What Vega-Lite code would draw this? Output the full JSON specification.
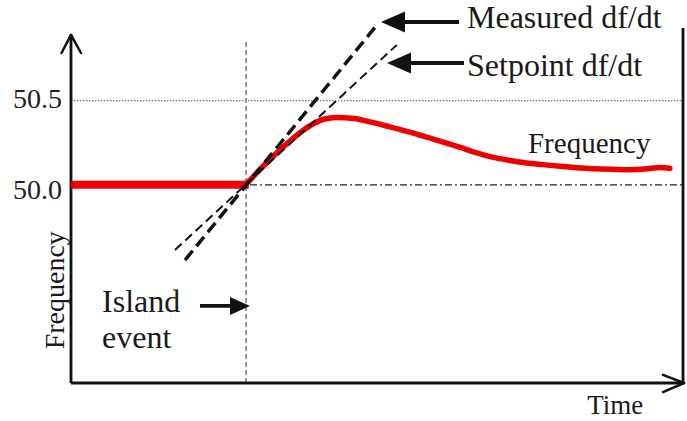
{
  "$schema": "https://vega.github.io/schema/vega-lite/v6.json",
  "width": 613,
  "height": 383,
  "autosize": "none",
  "padding": {"left": 71, "top": 0, "right": 3, "bottom": 38},
  "background": "white",
  "config": {"view": {"stroke": null}, "font": "Liberation Serif"},
  "datasets": {
    "freq": [
      {"t": 0, "f": 50.0, "part": "flat"},
      {"t": 29.0, "f": 50.0, "part": "flat"},
      {"t": 28.4, "f": 50.0, "part": "curve"},
      {"t": 28.7, "f": 50.01, "part": "curve"},
      {"t": 30.8, "f": 50.09, "part": "curve"},
      {"t": 33.0, "f": 50.17, "part": "curve"},
      {"t": 35.7, "f": 50.26, "part": "curve"},
      {"t": 38.5, "f": 50.34, "part": "curve"},
      {"t": 41.2, "f": 50.39, "part": "curve"},
      {"t": 43.3, "f": 50.40, "part": "curve"},
      {"t": 46.1, "f": 50.395, "part": "curve"},
      {"t": 49.3, "f": 50.37, "part": "curve"},
      {"t": 52.0, "f": 50.345, "part": "curve"},
      {"t": 54.8, "f": 50.318, "part": "curve"},
      {"t": 57.5, "f": 50.29, "part": "curve"},
      {"t": 60.2, "f": 50.26, "part": "curve"},
      {"t": 63.5, "f": 50.222, "part": "curve"},
      {"t": 66.2, "f": 50.19, "part": "curve"},
      {"t": 68.9, "f": 50.163, "part": "curve"},
      {"t": 71.6, "f": 50.145, "part": "curve"},
      {"t": 74.3, "f": 50.13, "part": "curve"},
      {"t": 77.0, "f": 50.12, "part": "curve"},
      {"t": 79.8, "f": 50.11, "part": "curve"},
      {"t": 82.5, "f": 50.102, "part": "curve"},
      {"t": 85.2, "f": 50.096, "part": "curve"},
      {"t": 88.0, "f": 50.092, "part": "curve"},
      {"t": 90.7, "f": 50.09, "part": "curve"},
      {"t": 93.6, "f": 50.094, "part": "curve"},
      {"t": 96.1, "f": 50.103, "part": "curve"},
      {"t": 97.7, "f": 50.098, "part": "curve"}
    ],
    "segs": [
      {"id": "grid505", "t": 0, "f": 50.5, "t2": 100, "f2": 50.5},
      {"id": "ref500", "t": 29.2, "f": 50.0, "t2": 100, "f2": 50.0},
      {"id": "island", "t": 28.55, "f": 48.82, "t2": 28.55, "f2": 50.862},
      {"id": "axis", "t": 0, "f": 48.82, "t2": 0, "f2": 50.892},
      {"id": "axis", "t": 0, "f": 48.82, "t2": 100, "f2": 48.82},
      {"id": "axis", "t": 99.84, "f": 48.82, "t2": 99.84, "f2": 50.933},
      {"id": "chevron", "t": -1.55, "f": 50.7845, "t2": 0, "f2": 50.892},
      {"id": "chevron", "t": 1.63, "f": 50.7845, "t2": 0, "f2": 50.892},
      {"id": "chevron", "t": 96.57, "f": 48.868, "t2": 100, "f2": 48.82},
      {"id": "chevron", "t": 96.57, "f": 48.766, "t2": 100, "f2": 48.82},
      {"id": "measured", "t": 18.6, "f": 49.552, "t2": 50.13, "f2": 50.961},
      {"id": "setpoint", "t": 16.97, "f": 49.612, "t2": 53.13, "f2": 50.832},
      {"id": "shaft", "t": 52.86, "f": 50.969, "t2": 63.3, "f2": 50.969},
      {"id": "shaft", "t": 53.67, "f": 50.725, "t2": 64.11, "f2": 50.725},
      {"id": "shaft", "t": 21.04, "f": 49.279, "t2": 27.24, "f2": 49.279}
    ],
    "heads": [
      {"t": 50.57, "f": 50.969, "kind": "left"},
      {"t": 51.55, "f": 50.725, "kind": "left"},
      {"t": 29.2, "f": 49.279, "kind": "right"}
    ],
    "labels": [
      {"t": 64.6, "f": 50.933, "label": "Measured df/dt", "kind": "note"},
      {"t": 64.6, "f": 50.648, "label": "Setpoint df/dt", "kind": "note"},
      {"t": 5.06, "f": 49.245, "label": "Island", "kind": "note"},
      {"t": 5.06, "f": 49.029, "label": "event", "kind": "note"},
      {"t": 74.55, "f": 50.1875, "label": "Frequency", "kind": "series"},
      {"t": 84.2, "f": 48.635, "label": "Time", "kind": "xtitle"},
      {"t": -1.47, "f": 50.46, "label": "50.5", "kind": "tick"},
      {"t": -1.47, "f": 49.918, "label": "50.0", "kind": "tick"},
      {"t": -1.14, "f": 49.372, "label": "Frequency", "kind": "ytitle"}
    ]
  },
  "encoding": {
    "x": {"field": "t", "type": "quantitative", "scale": {"domain": [0, 100], "nice": false, "zero": false}, "axis": null},
    "y": {"field": "f", "type": "quantitative", "scale": {"domain": [48.82, 51.1], "nice": false, "zero": false}, "axis": null}
  },
  "layer": [
    {
      "data": {"name": "segs"},
      "transform": [{"filter": "datum.id === 'grid505'"}],
      "mark": {"type": "rule", "color": "#555555", "strokeWidth": 1, "strokeDash": [1.5, 1.5]},
      "encoding": {"x2": {"field": "t2"}, "y2": {"field": "f2"}}
    },
    {
      "data": {"name": "segs"},
      "transform": [{"filter": "datum.id === 'ref500'"}],
      "mark": {"type": "rule", "color": "#222222", "strokeWidth": 1.2, "strokeDash": [7, 3, 2, 3]},
      "encoding": {"x2": {"field": "t2"}, "y2": {"field": "f2"}}
    },
    {
      "data": {"name": "segs"},
      "transform": [{"filter": "datum.id === 'island'"}],
      "mark": {"type": "rule", "color": "#777777", "strokeWidth": 1.5, "strokeDash": [5, 3]},
      "encoding": {"x2": {"field": "t2"}, "y2": {"field": "f2"}}
    },
    {
      "data": {"name": "segs"},
      "transform": [{"filter": "datum.id === 'axis'"}],
      "mark": {"type": "rule", "color": "#111111", "strokeWidth": 2.8},
      "encoding": {"x2": {"field": "t2"}, "y2": {"field": "f2"}}
    },
    {
      "data": {"name": "segs"},
      "transform": [{"filter": "datum.id === 'chevron'"}],
      "mark": {"type": "rule", "color": "#111111", "strokeWidth": 2.5, "strokeCap": "round"},
      "encoding": {"x2": {"field": "t2"}, "y2": {"field": "f2"}}
    },
    {
      "data": {"name": "freq"},
      "transform": [{"filter": "datum.part === 'flat'"}],
      "mark": {"type": "line", "color": "#ee0000", "strokeWidth": 8},
      "encoding": {}
    },
    {
      "data": {"name": "freq"},
      "transform": [{"filter": "datum.part === 'curve'"}],
      "mark": {"type": "line", "color": "#ee0000", "strokeWidth": 5.5, "interpolate": "monotone", "strokeCap": "round"},
      "encoding": {}
    },
    {
      "data": {"name": "segs"},
      "transform": [{"filter": "datum.id === 'measured'"}],
      "mark": {"type": "rule", "color": "#111111", "strokeWidth": 3.5, "strokeDash": [12, 6]},
      "encoding": {"x2": {"field": "t2"}, "y2": {"field": "f2"}}
    },
    {
      "data": {"name": "segs"},
      "transform": [{"filter": "datum.id === 'setpoint'"}],
      "mark": {"type": "rule", "color": "#111111", "strokeWidth": 2, "strokeDash": [9, 5]},
      "encoding": {"x2": {"field": "t2"}, "y2": {"field": "f2"}}
    },
    {
      "data": {"name": "segs"},
      "transform": [{"filter": "datum.id === 'shaft'"}],
      "mark": {"type": "rule", "color": "#111111", "strokeWidth": 3.8},
      "encoding": {"x2": {"field": "t2"}, "y2": {"field": "f2"}}
    },
    {
      "data": {"name": "heads"},
      "mark": {"type": "point", "filled": true, "size": 400, "color": "#111111", "opacity": 1},
      "encoding": {
        "shape": {"field": "kind", "type": "nominal", "legend": null,
          "scale": {"domain": ["left", "right"], "range": ["M0,0L2.4,-1.05L2.4,1.05Z", "M0,0L-2,-0.9L-2,0.9Z"]}}
      }
    },
    {
      "data": {"name": "labels"},
      "transform": [{"filter": "datum.kind === 'note'"}],
      "mark": {"type": "text", "align": "left", "baseline": "alphabetic", "fontSize": 32, "color": "#1a1a1a"},
      "encoding": {"text": {"field": "label"}}
    },
    {
      "data": {"name": "labels"},
      "transform": [{"filter": "datum.kind === 'series'"}],
      "mark": {"type": "text", "align": "left", "baseline": "alphabetic", "fontSize": 29, "color": "#1a1a1a"},
      "encoding": {"text": {"field": "label"}}
    },
    {
      "data": {"name": "labels"},
      "transform": [{"filter": "datum.kind === 'xtitle'"}],
      "mark": {"type": "text", "align": "left", "baseline": "alphabetic", "fontSize": 27, "color": "#1a1a1a"},
      "encoding": {"text": {"field": "label"}}
    },
    {
      "data": {"name": "labels"},
      "transform": [{"filter": "datum.kind === 'tick'"}],
      "mark": {"type": "text", "align": "right", "baseline": "alphabetic", "fontSize": 28, "color": "#222222"},
      "encoding": {"text": {"field": "label"}}
    },
    {
      "data": {"name": "labels"},
      "transform": [{"filter": "datum.kind === 'ytitle'"}],
      "mark": {"type": "text", "align": "center", "baseline": "alphabetic", "angle": 270, "fontSize": 28, "color": "#1a1a1a"},
      "encoding": {"text": {"field": "label"}}
    }
  ]
}
